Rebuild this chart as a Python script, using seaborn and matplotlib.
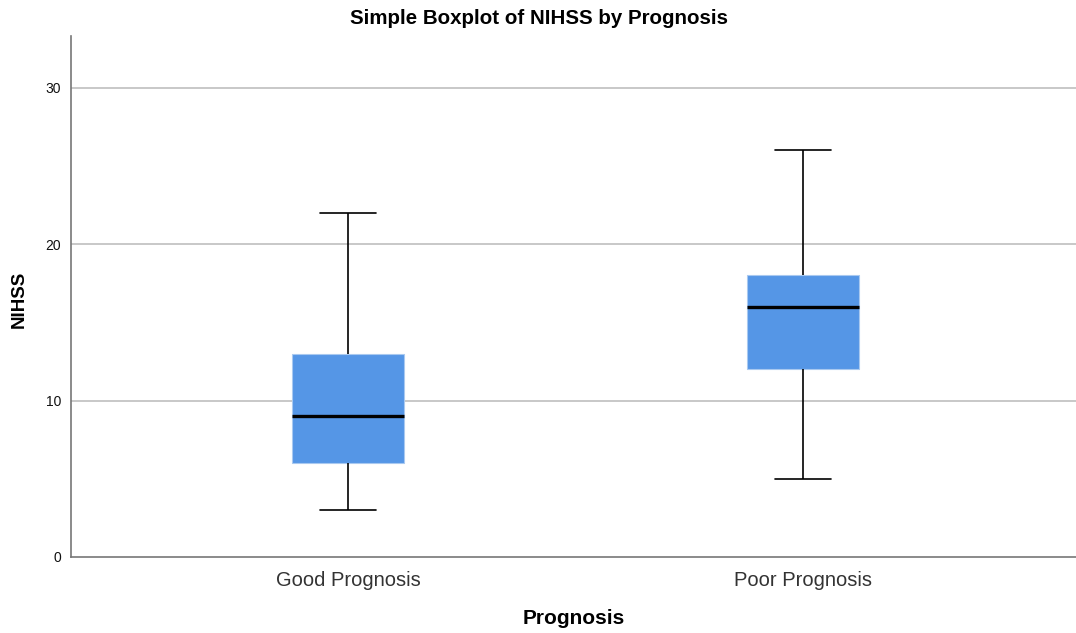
import numpy as np
import pandas as pd
import matplotlib
matplotlib.use("Agg")
import matplotlib.pyplot as plt
import seaborn as sns

# Five-number summaries (min, Q1, median, Q3, max)
categories = ["Good Prognosis", "Poor Prognosis"]
good_values = [3, 6, 9, 13, 22]
poor_values = [5, 12, 16, 18, 26]
yticks = [0, 10, 20, 30]

df = pd.DataFrame({
    "Prognosis": [categories[0]] * len(good_values) + [categories[1]] * len(poor_values),
    "NIHSS": good_values + poor_values,
})

sns.set_theme(style="white")
plt.rcParams['font.family'] = ['Liberation Sans', 'DejaVu Sans']

fig = plt.figure(figsize=(10.76, 6.33), dpi=100)
ax = fig.add_axes([71/1076, 1 - 557/633, 1 - 71/1076, (557 - 36)/633])

for y in yticks[1:]:
    ax.axhline(y, color="#c4c4c4", lw=1.3, zorder=0)

sns.boxplot(data=df, x="Prognosis", y="NIHSS", order=categories, ax=ax,
            width=0.248, color="#5596E6", saturation=1, whis=1.5,
            boxprops=dict(edgecolor="#a9c9f0", linewidth=0.8),
            whiskerprops=dict(color="black", linewidth=1.2),
            capprops=dict(color="black", linewidth=1.2),
            medianprops=dict(color="black", linewidth=2.4),
            showfliers=False)

ax.set_xlim(-0.609, 1.6)
ax.set_ylim(0, 33.3)
ax.set_yticks(yticks)
ax.set_yticklabels([str(t) for t in yticks], fontsize=10, color="#111111")
ax.tick_params(axis="x", labelsize=14.5, length=0, pad=10)
ax.tick_params(axis="y", length=0, pad=7)
for lab in ax.get_xticklabels():
    lab.set_color("#333333")

for side in ["top", "right"]:
    ax.spines[side].set_visible(False)
for side in ["left", "bottom"]:
    ax.spines[side].set_color("#777777")
    ax.spines[side].set_linewidth(1.2)

ax.set_xlabel("Prognosis", fontsize=15, fontweight="bold", labelpad=14, color="black")
ax.set_ylabel("")
fig.text(19/1076, 1 - 299/633, "NIHSS", rotation=90, ha="center", va="center",
         fontsize=13.5, fontweight="bold", color="black")
fig.text(539/1076, 1 - 19/633, "Simple Boxplot of NIHSS by Prognosis",
         ha="center", va="center", fontsize=14.8, fontweight="bold", color="black")

fig.savefig("out.png", dpi=100)
